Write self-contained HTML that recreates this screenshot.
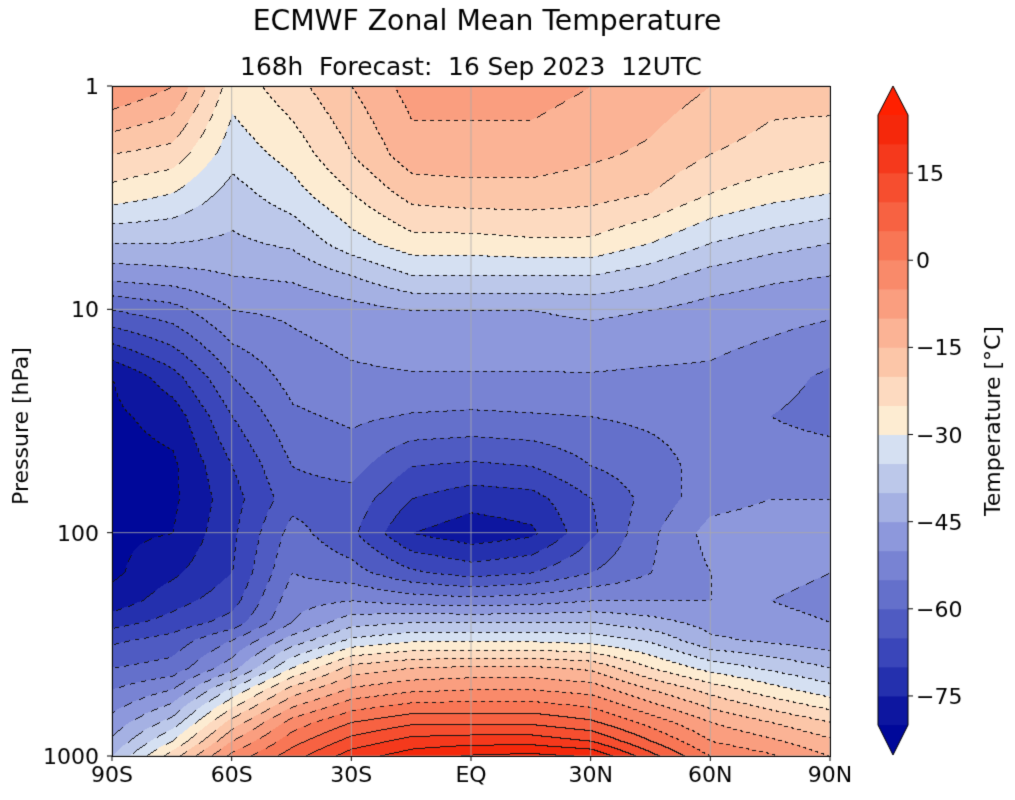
<!DOCTYPE html>
<html><head><meta charset="utf-8"><style>
body{margin:0;background:#fff;font-family:"DejaVu Sans",sans-serif;}
#wrap{position:relative;width:1015px;height:800px;}
canvas{position:absolute;left:0;top:0;}
</style></head><body>
<div id="wrap">
<canvas id="c" width="1015" height="800"></canvas>
</div>
<script>
const lats=[-90,-75,-60,-45,-30,-15,0,15,30,45,60,75,90];
const levels=[1,2,3,5,7,10,20,30,50,70,100,150,200,250,300,400,500,700,850,1000];
const temps=[
[-5,-10,-28,-22,-15,-8,-8,-8,-10,-12,-15,-18,-17],
[-20,-22,-33,-28,-20,-12,-12,-12,-14,-16,-20,-22,-24],
[-27,-30,-37,-32,-25,-18,-17,-17,-18,-20,-25,-28,-30],
[-40,-40,-41,-39,-32,-27,-27,-26,-26,-30,-35,-38,-40],
[-48,-47,-45,-44,-40,-35,-35,-35,-35,-38,-42,-44,-45],
[-60,-57,-50,-49,-47,-45,-45,-45,-44,-45,-47,-48,-49],
[-80,-72,-60,-53,-51,-50.5,-50.5,-50.5,-50.5,-51,-51,-53,-56],
[-81,-78,-65,-56,-54,-55.5,-56,-55.5,-55,-54,-53,-55,-57],
[-82,-81,-70,-60,-58,-65,-66,-65,-60,-57,-53,-52,-52],
[-82,-81,-72,-62,-62,-70,-73,-72,-65,-58,-52,-50,-50],
[-81,-80,-71,-58,-64,-75,-78,-76,-66,-56,-48,-47,-48],
[-81,-76,-70,-55,-58,-64,-67,-65,-60,-55,-50,-48,-50],
[-78,-72,-67,-52,-50,-52,-53,-52,-50,-50,-50,-50,-52],
[-72,-68,-63,-50,-42,-40,-40,-40,-40,-43,-47,-48,-50],
[-66,-63,-55,-43,-34,-31,-31,-31,-32,-36,-44,-46,-48],
[-60,-58,-47,-30,-18,-15,-14,-14,-16,-25,-32,-36,-40],
[-55,-50,-34,-18,-9,-6,-5,-5,-7,-15,-22,-28,-33],
[-48,-38,-18,-3,5,9,9,9,6,-2,-10,-15,-20],
[-44,-30,-10,3,12,17,18,18,15,5,-5,-9,-14],
[-40,-22,-3,8,18,23,26,27,25,12,0,-4,-10]];
const xTicks=["90S","60S","30S","EQ","30N","60N","90N"];
const xTickVals=[-90,-60,-30,0,30,60,90];
const yTicks=[1,10,100,1000];
const cbTicks=[15,0,-15,-30,-45,-60,-75];
const binColors=["#0d16a0","#2430ae","#3a46ba","#4f5bc2","#6470cb","#7883d3","#8d98dc","#a5b1e3","#bcc8ea","#d5e0f2",
"#fdecd2","#fddac0","#fcc6a8","#fbb395","#fa9e7f","#f98a6a","#f87655","#f76242","#f64e2f","#f5391c","#f5280b"];
const lowCol="#00089a", highCol="#ff2000";
const X0=112,X1=830,Y0=86,Y1=756;
const xs=v=>X0+(v+90)/180*(X1-X0);
const ys=p=>Y0+Math.log10(p)/3*(Y1-Y0);
const cv=document.getElementById('c'),ctx=cv.getContext('2d');
function val(lat,lp){
  let i=Math.min(11,Math.max(0,Math.floor((lat+90)/15)));let fx=(lat-lats[i])/15;
  let lv=levels.map(Math.log10);let j=0;while(j<lv.length-2&&lp>lv[j+1])j++;
  let fy=(lp-lv[j])/(lv[j+1]-lv[j]);fy=Math.max(0,Math.min(1,fy));fx=Math.max(0,Math.min(1,fx));
  const a=temps[j][i],b=temps[j][i+1],c=temps[j+1][i],d=temps[j+1][i+1];
  return a*(1-fx)*(1-fy)+b*fx*(1-fy)+c*(1-fx)*fy+d*fx*fy;}
function bin(t){return Math.floor((t+80)/5);}
const W=X1-X0,H=Y1-Y0;const img=ctx.createImageData(W,H);const bins=[];
function hex(h){return [parseInt(h.substr(1,2),16),parseInt(h.substr(3,2),16),parseInt(h.substr(5,2),16)];}
const rgb=binColors.map(hex),lo=hex(lowCol),hi=hex(highCol);
for(let y=0;y<H;y++){bins[y]=[];const lp=3*y/H;for(let x=0;x<W;x++){const lat=-90+180*x/W;const b=bin(val(lat,lp));bins[y][x]=b;
 const c=b<0?lo:(b>=21?hi:rgb[b]);const k=(y*W+x)*4;img.data[k]=c[0];img.data[k+1]=c[1];img.data[k+2]=c[2];img.data[k+3]=255;}}
for(let y=1;y<H;y++)for(let x=1;x<W;x++){const b=bins[y][x];const n=Math.max(bins[y][x-1],bins[y-1][x]);
 if(b!==bins[y][x-1]||b!==bins[y-1][x]){const lvl=-80+5*Math.max(b,n);
  if(lvl<=0 && Math.floor((x+y)/4)%2===1)continue;
  const k=(y*W+x)*4;img.data[k]=20;img.data[k+1]=20;img.data[k+2]=20;}}
ctx.putImageData(img,X0,Y0);
function fitFont(txt,w,base){ctx.font=base+"px 'DejaVu Sans',sans-serif";const m=ctx.measureText(txt).width;return base*w/m;}
ctx.strokeStyle="rgba(170,170,170,0.8)";ctx.lineWidth=1;
ctx.font="22px 'DejaVu Sans',sans-serif";ctx.fillStyle="#000";
xTickVals.forEach((v,i)=>{const x=xs(v);ctx.strokeStyle="rgba(170,170,170,0.8)";ctx.beginPath();ctx.moveTo(x,Y0);ctx.lineTo(x,Y1);ctx.stroke();
 ctx.strokeStyle="#000";ctx.beginPath();ctx.moveTo(x,Y1);ctx.lineTo(x,Y1+5);ctx.stroke();ctx.textAlign="center";ctx.fillText(xTicks[i],x,782);});
yTicks.forEach(p=>{const y=ys(p);ctx.strokeStyle="rgba(170,170,170,0.8)";ctx.beginPath();ctx.moveTo(X0,y);ctx.lineTo(X1,y);ctx.stroke();
 ctx.strokeStyle="#000";ctx.beginPath();ctx.moveTo(X0-5,y);ctx.lineTo(X0,y);ctx.stroke();ctx.textAlign="right";ctx.fillText(String(p),99,y+8);});
ctx.strokeStyle="#000";ctx.strokeRect(X0+0.5,Y0+0.5,W,H);
ctx.textAlign="center";
let t1="ECMWF Zonal Mean Temperature";ctx.font=fitFont(t1,469,26)+"px 'DejaVu Sans',sans-serif";ctx.fillText(t1,487,30);
let t2="168h  Forecast:  16 Sep 2023  12UTC";ctx.font=fitFont(t2,462,22)+"px 'DejaVu Sans',sans-serif";ctx.fillText(t2,471,75);
ctx.save();ctx.translate(28,426);ctx.rotate(-Math.PI/2);ctx.font="22px 'DejaVu Sans',sans-serif";ctx.fillText("Pressure [hPa]",0,0);ctx.restore();
// colorbar
const CX=878,CW=30,cy=t=>115+(25-t)/105*610;
for(let b=0;b<21;b++){ctx.fillStyle=binColors[b];ctx.fillRect(CX,cy(-80+5*b+5),CW,cy(-80+5*b)-cy(-80+5*b+5)+0.5);}
ctx.fillStyle=highCol;ctx.beginPath();ctx.moveTo(CX,115);ctx.lineTo(CX+CW/2,86);ctx.lineTo(CX+CW,115);ctx.fill();
ctx.fillStyle=lowCol;ctx.beginPath();ctx.moveTo(CX,725);ctx.lineTo(CX+CW/2,755);ctx.lineTo(CX+CW,725);ctx.fill();
ctx.strokeStyle="#000";ctx.beginPath();ctx.moveTo(CX,115);ctx.lineTo(CX+CW/2,86);ctx.lineTo(CX+CW,115);ctx.lineTo(CX+CW,725);ctx.lineTo(CX+CW/2,755);ctx.lineTo(CX,725);ctx.closePath();ctx.stroke();
ctx.fillStyle="#000";ctx.textAlign="left";ctx.font="22px 'DejaVu Sans',sans-serif";
cbTicks.forEach(t=>{const y=cy(t);ctx.beginPath();ctx.moveTo(CX+CW,y);ctx.lineTo(CX+CW+5,y);ctx.stroke();ctx.fillText((t<0?"\u2212":"")+Math.abs(t),916,y+8);});
ctx.save();ctx.translate(1000,421);ctx.rotate(-Math.PI/2);ctx.textAlign="center";ctx.font="22px 'DejaVu Sans',sans-serif";ctx.fillText("Temperature [°C]",0,0);ctx.restore();
</script>
</body></html>
